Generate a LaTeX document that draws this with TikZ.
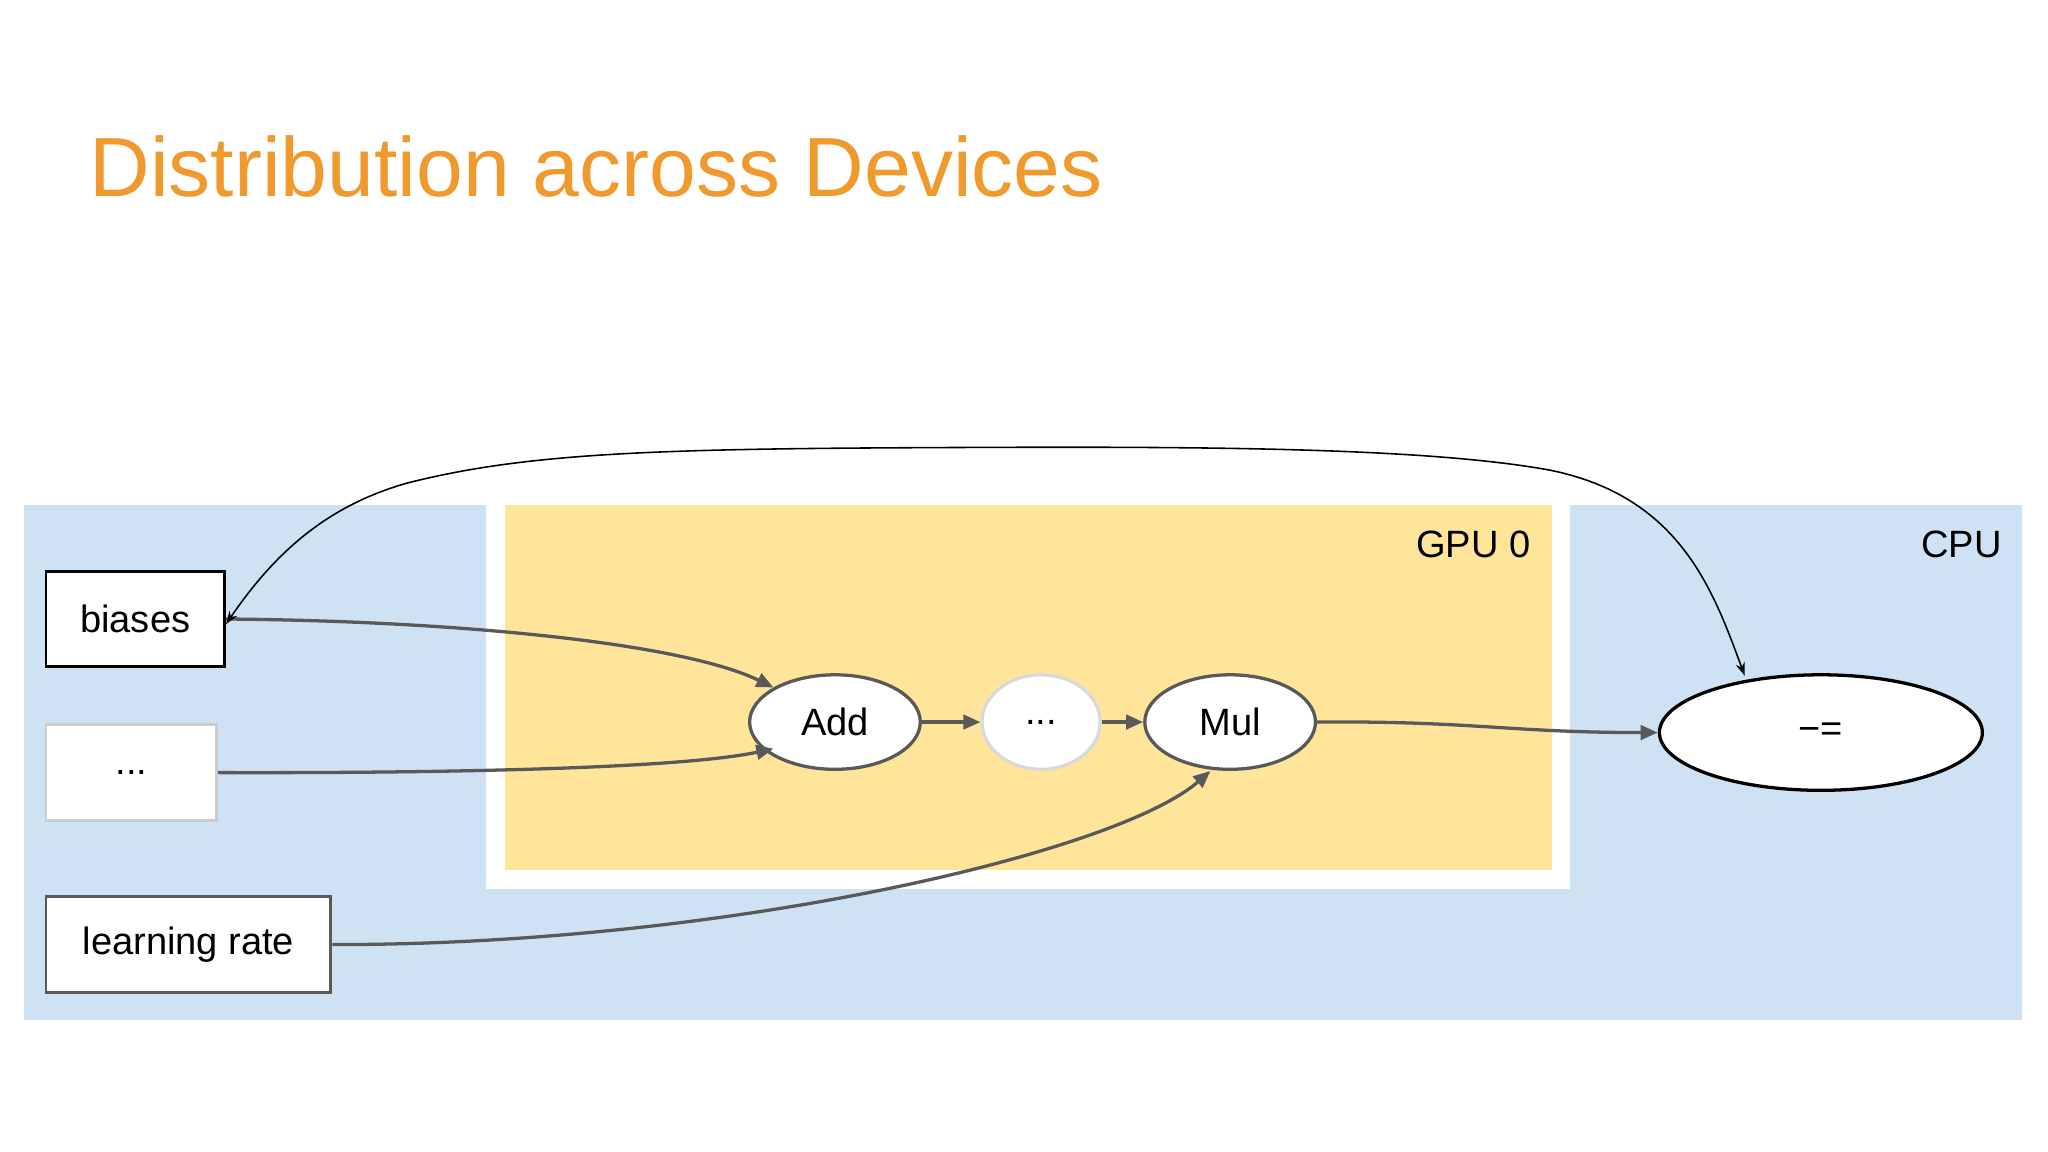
\documentclass[tikz,border=0pt]{standalone}
\usepackage{fontspec}
\setmainfont{Liberation Sans}
\usetikzlibrary{arrows.meta,shapes.geometric}
\definecolor{cpub}{HTML}{CFE2F3}
\definecolor{gpuy}{HTML}{FFE599}
\definecolor{ttl}{HTML}{F09A2E}
\definecolor{edg}{HTML}{595959}
\begin{document}
\begin{tikzpicture}[x=1pt,y=-1pt,
  box/.style={draw,line width=2.2pt,fill=white,inner sep=0pt,font=\fontsize{29}{34}\selectfont},
  ell/.style={ellipse,draw=edg,line width=2.5pt,fill=white,inner sep=0pt,font=\fontsize{29}{34}\selectfont},
  arr/.style={draw=edg,line width=2.5pt,-{Triangle[length=13pt,width=11pt]}},
  lbl/.style={font=\fontsize{29}{34}\selectfont}]
\useasboundingbox (0,0) rectangle (1560,877.5);
\fill[white] (0,0) rectangle (1560,877.5);
\node[anchor=base west,text=ttl,font=\fontsize{64}{76}\selectfont,inner sep=0pt] (title) at (68,150) {Distribution across Devices};
\fill[cpub] (18,385) rectangle (1540,777);
\fill[white] (370,385) rectangle (1196,677);
\fill[gpuy] (385,385) rectangle (1182,663);
\node[lbl,anchor=north east,inner sep=0pt] (gpu) at (1166,404) {GPU 0};
\node[lbl,anchor=north east,inner sep=0pt] (cpu) at (1525,404) {CPU};
\node[box,draw=black,minimum width=136pt,minimum height=73pt] (b) at (103,471.5) {biases};
\node[box,draw=black!20,minimum width=130pt,minimum height=73pt] (d) at (100,588.5) {...};
\node[box,draw=edg,minimum width=217pt,minimum height=73pt] (lr) at (143.5,719.5) {learning rate};
\node[ell,minimum width=130pt,minimum height=72pt] (add) at (636,550) {Add};
\node[ell,draw=black!15,minimum width=90pt,minimum height=72pt] (dots) at (793,550) {...};
\node[ell,minimum width=130pt,minimum height=72pt] (mul) at (937,550) {Mul};
\node[ell,draw=black,minimum width=246pt,minimum height=88pt] (upd) at (1387,558) {−=};
\draw[arr] (b.east) .. controls (350,473) and (520,490) .. (add.north west);
\draw[arr] (d.east) .. controls (350,589) and (520,585) .. ([yshift=6pt]add.south west);
\draw[arr] (lr.east) .. controls (550,720) and (850,650) .. ([xshift=-15pt]mul.south);
\draw[arr] (add) -- (dots);
\draw[arr] (dots) -- (mul);
\draw[arr] (mul.east) .. controls (1120,549) and (1150,558) .. (upd.west);
\draw[line width=1.2pt,{Stealth[length=10pt,width=7pt]}-{Stealth[length=10pt,width=7pt]}] ([yshift=-4pt]b.east)
  .. controls (210,420) and (250,385) .. (310,368)
  .. controls (400,345) and (500,342) .. (700,341)
  .. controls (900,340) and (1080,340) .. (1180,358)
  .. controls (1280,378) and (1305,450) .. ([xshift=-58pt,yshift=-2pt]upd.north);
\end{tikzpicture}
\end{document}
